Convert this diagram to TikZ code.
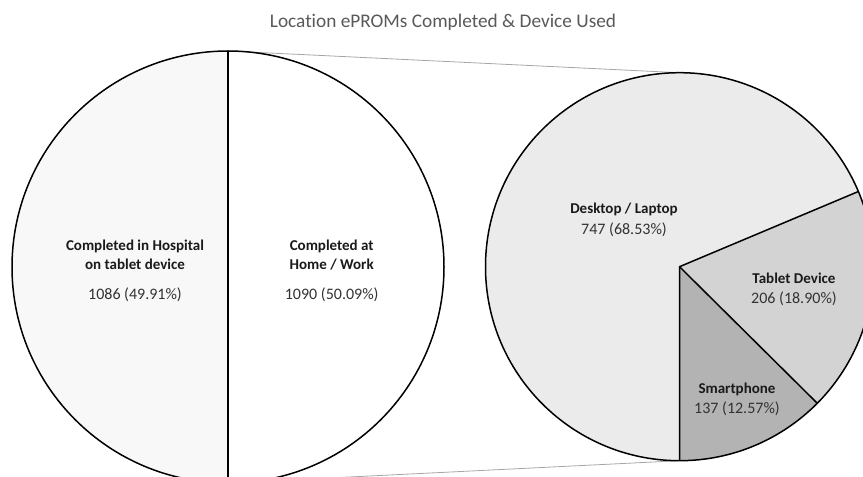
\documentclass[tikz,border=0pt]{standalone}
\usepackage{fontspec}
\setmainfont{Carlito}[Ligatures=NoCommon]
\usetikzlibrary{calc}
\definecolor{titlegray}{HTML}{595959}
\definecolor{labgray}{HTML}{1A1A1A}
\definecolor{numgray}{HTML}{333333}
\definecolor{hospfill}{HTML}{F8F8F8}
\definecolor{deskfill}{HTML}{EBEBEB}
\definecolor{tabfill}{HTML}{D3D3D3}
\definecolor{smartfill}{HTML}{B3B3B3}
\definecolor{zoomline}{HTML}{A6A6A6}
\tikzset{
  slice/.style={draw=black, line width=1.5pt, line join=round},
  lab/.style={anchor=base, inner sep=0pt, text=labgray, font=\fontsize{15}{17}\selectfont\bfseries},
  num/.style={anchor=base, inner sep=0pt, text=numgray, font=\fontsize{16}{18}\selectfont},
  zoomconn/.style={draw=zoomline, line width=0.8pt},
}
\begin{document}
\begin{tikzpicture}[x=1pt,y=1pt]
\useasboundingbox (0,0) rectangle (863,477);
\clip (0,0) rectangle (863,477);
% centres
\coordinate (L) at (228,210);
\coordinate (R) at (679.5,210.3);
\coordinate (Ltop) at (228,426);
\coordinate (Lbot) at (228,-6);
\coordinate (Rtop) at (679.5,404.3);
\coordinate (Rbot) at (679.5,16.3);
\coordinate (Rtab) at ($(R)+(22.8:194)$);
\coordinate (Rsm) at ($(R)+(-44.75:194)$);
% connectors
\draw[zoomconn] (Ltop) -- (Rtop);
\draw[zoomconn] (Lbot) -- (Rbot);
% left pie
\fill[hospfill] (L) -- (Ltop) arc[start angle=90, end angle=270, radius=216] -- cycle;
\fill[white] (L) -- (Lbot) arc[start angle=-90, end angle=90, radius=216] -- cycle;
\draw[slice] (L) circle[radius=216];
\draw[slice] (Ltop) -- (Lbot);
% right pie
\fill[deskfill] (R) -- (Rtab) arc[start angle=22.8, end angle=270, radius=194] -- cycle;
\fill[tabfill] (R) -- (Rsm) arc[start angle=-44.75, end angle=22.8, radius=194] -- cycle;
\fill[smartfill] (R) -- (Rbot) arc[start angle=-90, end angle=-44.75, radius=194] -- cycle;
\draw[slice] (R) circle[radius=194];
\draw[slice] (Rtab) -- (R) -- (Rbot);
\draw[slice] (R) -- (Rsm);
% title
\node[anchor=base, inner sep=0pt, text=titlegray, font=\fontsize{19.3}{21}\selectfont] (title) at (443,449.7) {Location ePROMs Completed \& Device Used};
% left labels
\node[lab] (h1) at (135,226.3) {Completed in Hospital};
\node[lab] (h2) at (135,207) {on tablet device};
\node[num] (h3) at (135,177) {1086 (49.91\%)};
\node[lab] (w1) at (331.7,226.3) {Completed at};
\node[lab] (w2) at (331.7,207) {Home / Work};
\node[num] (w3) at (331.7,177) {1090 (50.09\%)};
% right labels
\node[lab] (d1) at (624,263) {Desktop / Laptop};
\node[num] (d2) at (624,242.3) {747 (68.53\%)};
\node[lab] (t1) at (794,193.7) {Tablet Device};
\node[num] (t2) at (794,173) {206 (18.90\%)};
\node[lab] (s1) at (737,83.7) {Smartphone};
\node[num] (s2) at (737,63) {137 (12.57\%)};
\end{tikzpicture}
\end{document}
